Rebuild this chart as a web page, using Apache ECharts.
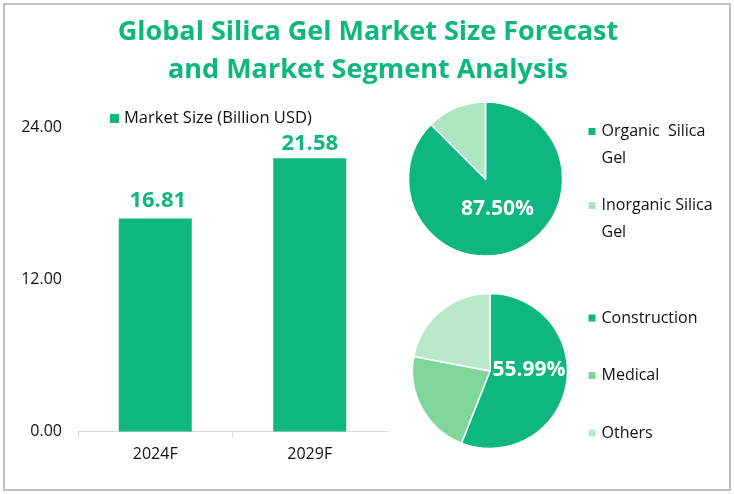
<!DOCTYPE html>
<html>
<head>
<meta charset="utf-8">
<style>html,body{margin:0;padding:0;background:#fff}#chart{width:734px;height:494px}</style>
<script src="https://cdn.jsdelivr.net/npm/echarts@6/dist/echarts.min.js"></script>
</head>
<body>
<div id="chart"></div>
<script>
var years = ['2024F', '2029F'];
var marketSize = [16.81, 21.58];
var yTicks = [0, 12, 24];
var typeNames = ['Organic  Silica\nGel', 'Inorganic Silica\nGel'];
var typeValues = [87.5, 12.5];
var useNames = ['Construction', 'Medical', 'Others'];
var useValues = [55.99, 22.01, 22.0];

var green = '#0EB680';
var fontName = '"Open Sans"';
// icon keeps the square on the first text line of a two line legend item
var topIcon = 'path://M0 0h9v9h-9z M0 36h0.01v0z';

var chart = echarts.init(document.getElementById('chart'));
var option = {
    animation: false,
    backgroundColor: '#fff',
    textStyle: {fontFamily: fontName},
    title: {
        text: 'Global Silica Gel Market Size Forecast\nand Market Segment Analysis',
        left: 363, top: 8, textAlign: 'center',
        textStyle: {fontSize: 27, fontWeight: 'bold', color: green, lineHeight: 38, fontFamily: fontName}
    },
    graphic: [{
        type: 'rect', silent: true, z: -1,
        shape: {x: 4, y: 4, width: 726, height: 486},
        style: {fill: 'none', stroke: '#BFBFBF', lineWidth: 2}
    }, {
        // the reference has no tick at the right end of the x axis
        type: 'rect', silent: true, z: 100,
        shape: {x: 385, y: 432.5, width: 5, height: 7},
        style: {fill: '#fff'}
    }],
    legend: [
        {
            data: ['Market Size (Billion USD)'], left: 110, top: 110, padding: 0, icon: 'rect',
            itemWidth: 9, itemHeight: 9, itemGap: 5,
            textStyle: {fontSize: 16.5, color: '#111', fontFamily: fontName}
        },
        {
            data: typeNames, orient: 'vertical', left: 586.5, top: 118, padding: 0, icon: topIcon,
            itemWidth: 9, itemHeight: 36, itemGap: 20,
            textStyle: {fontSize: 16, color: '#111', lineHeight: 27, fontFamily: fontName}
        },
        {
            data: useNames, orient: 'vertical', left: 586.5, top: 308, padding: 0, icon: 'rect',
            itemWidth: 9, itemHeight: 9, itemGap: 37.5,
            textStyle: {fontSize: 16, color: '#111', lineHeight: 20, fontFamily: fontName}
        }
    ],
    grid: {left: 78, right: 347, top: 127.5, bottom: 62.5},
    xAxis: {
        type: 'category', data: years,
        axisLine: {lineStyle: {color: '#D9D9D9'}},
        axisTick: {show: true, length: 6, lineStyle: {color: '#D9D9D9'}},
        axisLabel: {fontSize: 16, color: '#111', margin: 15}
    },
    yAxis: {
        type: 'value', min: yTicks[0], max: yTicks[2], interval: yTicks[1],
        splitLine: {show: false}, axisLine: {show: false}, axisTick: {show: false},
        axisLabel: {
            fontSize: 16, color: '#111', margin: 16, padding: [4, 0, 0, 0],
            formatter: function (v) { return v.toFixed(2); }
        }
    },
    series: [
        {
            name: 'Market Size (Billion USD)', type: 'bar', barWidth: 73,
            data: marketSize.map(function (v, i) {
                return {value: v, label: {offset: i === 0 ? [2.5, -1] : [0, 3]}};
            }),
            itemStyle: {color: green},
            label: {
                show: true, position: 'top', distance: 6, fontSize: 22, fontWeight: 'bold', color: green,
                formatter: function (p) { return p.value.toFixed(2); }
            }
        },
        {
            type: 'pie', center: [485.5, 179], radius: [0, 77], startAngle: 90, clockwise: true,
            data: typeNames.map(function (n, i) { return {name: n, value: typeValues[i]}; }),
            color: [green, '#AEE5C1'],
            itemStyle: {borderColor: '#fff', borderWidth: 1.5},
            label: {
                position: 'inside', fontSize: 21, fontWeight: 'bold', color: '#fff', offset: [-4, -8],
                formatter: function (p) { return p.dataIndex === 0 ? p.value.toFixed(2) + '%' : ''; }
            },
            labelLine: {show: false}, silent: true
        },
        {
            type: 'pie', center: [490, 371], radius: [0, 77.5], startAngle: 90, clockwise: true,
            data: useNames.map(function (n, i) { return {name: n, value: useValues[i]}; }),
            color: [green, '#7FD69A', '#B9E9C9'],
            itemStyle: {borderColor: '#fff', borderWidth: 1.5},
            label: {
                position: 'inside', fontSize: 21, fontWeight: 'bold', color: '#fff', offset: [-2, -9],
                formatter: function (p) { return p.dataIndex === 0 ? p.value.toFixed(2) + '%' : ''; }
            },
            labelLine: {show: false}, silent: true
        }
    ]
};
chart.setOption(option);
</script>
</body>
</html>
